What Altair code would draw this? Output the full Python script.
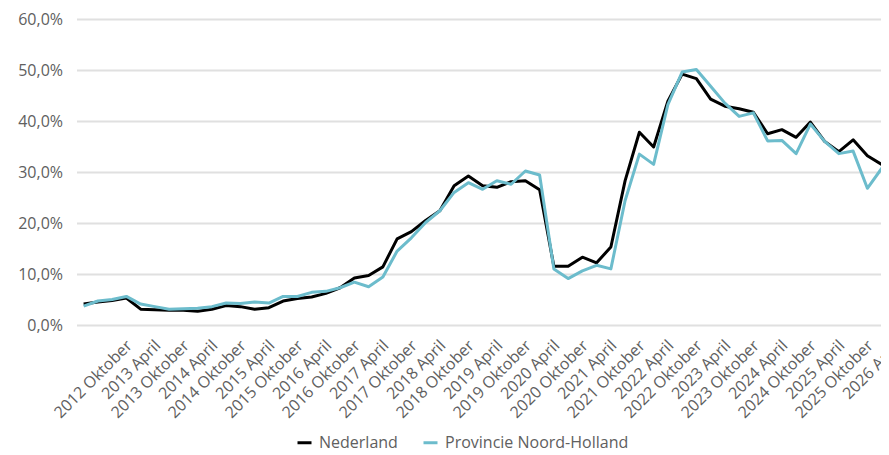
import altair as alt
import pandas as pd

# Quarterly periods, starting 2012 Januari
months = ["Januari", "April", "Juli", "Oktober"]
periods = [f"{2012 + k // 4} {months[k % 4]}" for k in range(58)]

nederland = [4.1, 4.5, 4.8, 5.3, 3.1, 3.0, 2.9, 2.9, 2.7, 3.1,
             3.8, 3.6, 3.1, 3.4, 4.7, 5.2, 5.5, 6.2, 7.3, 9.2,
             9.7, 11.4, 16.9, 18.3, 20.5, 22.4, 27.3, 29.2, 27.3, 27.0,
             28.1, 28.3, 26.5, 11.5, 11.5, 13.3, 12.2, 15.3, 28.3, 37.8,
             34.9, 43.9, 49.2, 48.3, 44.3, 42.9, 42.4, 41.7, 37.5, 38.3,
             36.8, 39.8, 36.0, 34.0, 36.3, 33.2, 31.5, 30.1]

noord_holland = [3.7, 4.7, 5.0, 5.6, 4.1, 3.6, 3.1, 3.2, 3.3, 3.6,
                 4.3, 4.2, 4.5, 4.3, 5.6, 5.6, 6.4, 6.6, 7.3, 8.4,
                 7.5, 9.4, 14.5, 17.1, 20.1, 22.4, 26.0, 27.9, 26.6, 28.3,
                 27.6, 30.2, 29.4, 11.0, 9.1, 10.6, 11.7, 11.0, 24.4, 33.5,
                 31.5, 43.2, 49.6, 50.1, 46.8, 43.5, 40.9, 41.6, 36.1, 36.2,
                 33.6, 39.4, 36.0, 33.6, 34.1, 26.8, 30.7, 27.4]

tick_labels = ["2012 Oktober", "2013 April", "2013 Oktober", "2014 April",
               "2014 Oktober", "2015 April", "2015 Oktober", "2016 April",
               "2016 Oktober", "2017 April", "2017 Oktober", "2018 April",
               "2018 Oktober", "2019 April", "2019 Oktober", "2020 April",
               "2020 Oktober", "2021 April", "2021 Oktober", "2022 April",
               "2022 Oktober", "2023 April", "2023 Oktober", "2024 April",
               "2024 Oktober", "2025 April", "2025 Oktober", "2026 April"]

y_ticks = [0, 0.1, 0.2, 0.3, 0.4, 0.5, 0.6]
series_names = ["Nederland", "Provincie Noord-Holland"]
series_colors = ["#000000", "#6cbccc"]

rows = []
for p, a, b in zip(periods, nederland, noord_holland):
    rows.append({"periode": p, "reeks": series_names[0], "waarde": a / 100})
    rows.append({"periode": p, "reeks": series_names[1], "waarde": b / 100})
df = pd.DataFrame(rows)

FONT = "Open Sans"
TXT = "#606060"
FS = 16
step = 14.25

chart = alt.Chart(df).mark_line(strokeWidth=3, clip=True, strokeJoin="round").encode(
    x=alt.X("periode:O", sort=periods,
            scale=alt.Scale(domain=periods, range=[0, step * 58], padding=0.5),
            axis=alt.Axis(title=None, values=tick_labels, labelAngle=-45,
                          domain=False, ticks=False, grid=False,
                          labelFontSize=FS, labelColor=TXT, labelFont=FONT,
                          labelPadding=12, labelOffset=-3)),
    y=alt.Y("waarde:Q", scale=alt.Scale(domain=[0, 0.6]),
            axis=alt.Axis(title=None, values=y_ticks,
                          labelExpr="replace(format(datum.value, '.1%'), '.', ',')",
                          domain=False, ticks=False, grid=True,
                          gridColor="#e0e0e0", gridWidth=2,
                          labelFontSize=FS, labelColor=TXT, labelFont=FONT,
                          labelPadding=14)),
    color=alt.Color("reeks:N",
                    scale=alt.Scale(domain=series_names, range=series_colors),
                    legend=alt.Legend(title=None, orient="none", direction="horizontal",
                                      legendX=219.5, legendY=415,
                                      symbolType="stroke", symbolStrokeWidth=3,
                                      symbolSize=196, labelFontSize=FS,
                                      labelColor=TXT, labelFont=FONT, labelLimit=0,
                                      labelOffset=6, columnPadding=19)),
).properties(
    width=804.5,
    height=306,
    autosize=alt.AutoSizeParams(type="none"),
    padding={"left": 68.5, "top": 11, "right": 0, "bottom": 130},
).configure_view(stroke=None)

chart.save("out.html", embed_options={"renderer": "svg", "actions": False})
